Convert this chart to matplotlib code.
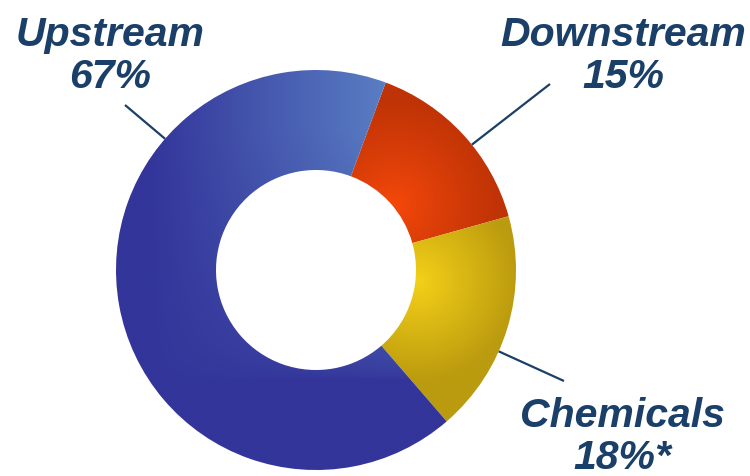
import numpy as np
import matplotlib
matplotlib.use("Agg")
import matplotlib.pyplot as plt
from matplotlib.colors import to_rgb

# segment shares (percent), drawn clockwise starting from Downstream
segments = ["Downstream", "Chemicals", "Upstream"]
shares = [15, 18, 67]
label_text = ["Downstream\n15%", "Chemicals\n18%*", "Upstream\n67%"]

# label layout: text centre (data units) and leader line (outer end, angle on ring)
label_xy = [(1.535, 1.075), (1.53, -0.83), (-1.03, 1.075)]
leader_end = [(1.17, 0.93), (1.24, -0.555), (-0.955, 0.825)]
leader_angle = [38.8, -24.0, 139.0]

text_color = "#1a3f68"
line_color = "#1a3f68"

fig = plt.figure(figsize=(7.5, 4.77), dpi=100)
ax = fig.add_axes([0, 0, 1, 1])
ax.axis("off")

wedges, _ = ax.pie(shares, radius=1.0, startangle=69.6, counterclock=False,
                   wedgeprops=dict(width=0.5, edgecolor="none"))


def blend(c0, c1, t):
    c0 = np.array(to_rgb(c0))
    c1 = np.array(to_rgb(c1))
    return c0 + (c1 - c0) * t[..., None]


# pixel-like grid over the ring for the gradient fills
n = 600
gx, gy = np.meshgrid(np.linspace(-1.05, 1.05, n), np.linspace(-1.05, 1.05, n))
px = 316 + 200 * gx
py = 271 - 200 * gy

# Downstream: radial glow from the inner edge
d = np.hypot(px - 395, py - 205)
t_down = np.clip(d / 105, 0, 1) ** 0.9
img_down = blend("#f5480a", "#bf3306", t_down)

# Chemicals: radial glow, bright yellow inside, dark gold outside
d = np.hypot(px - 418, py - 282)
t_chem = np.clip(d / 100, 0, 1)
img_chem = blend("#f4d018", "#bb9b0f", t_chem)

# Upstream: dark navy, lightening toward the top right
t_up = np.clip((px - 150) / 240, 0, 1) * np.clip((380 - py) / 250, 0, 1) ** 0.6
img_up = blend("#33359a", "#5a7fc4", t_up)

for wedge, img in zip(wedges, [img_down, img_chem, img_up]):
    wedge.set_facecolor("none")
    im = ax.imshow(img, extent=(-1.05, 1.05, -1.05, 1.05), origin="lower",
                   interpolation="bilinear", zorder=1)
    im.set_clip_path(wedge)

ax.set_xlim(-1.58, 2.17)
ax.set_ylim(-1.03, 1.355)
ax.set_aspect("auto")

for txt, (tx, ty), (ex, ey), ang in zip(label_text, label_xy, leader_end, leader_angle):
    a = np.deg2rad(ang)
    ax.plot([ex, np.cos(a)], [ey, np.sin(a)], color=line_color, lw=1.6,
            solid_capstyle="butt", zorder=3)
    ax.text(tx, ty, txt, ha="center", va="center", color=text_color,
            fontsize=29.5, fontweight="bold", fontstyle="italic",
            family="Liberation Sans", linespacing=1.15, zorder=4)

fig.savefig("out.png", dpi=100, facecolor="white")
